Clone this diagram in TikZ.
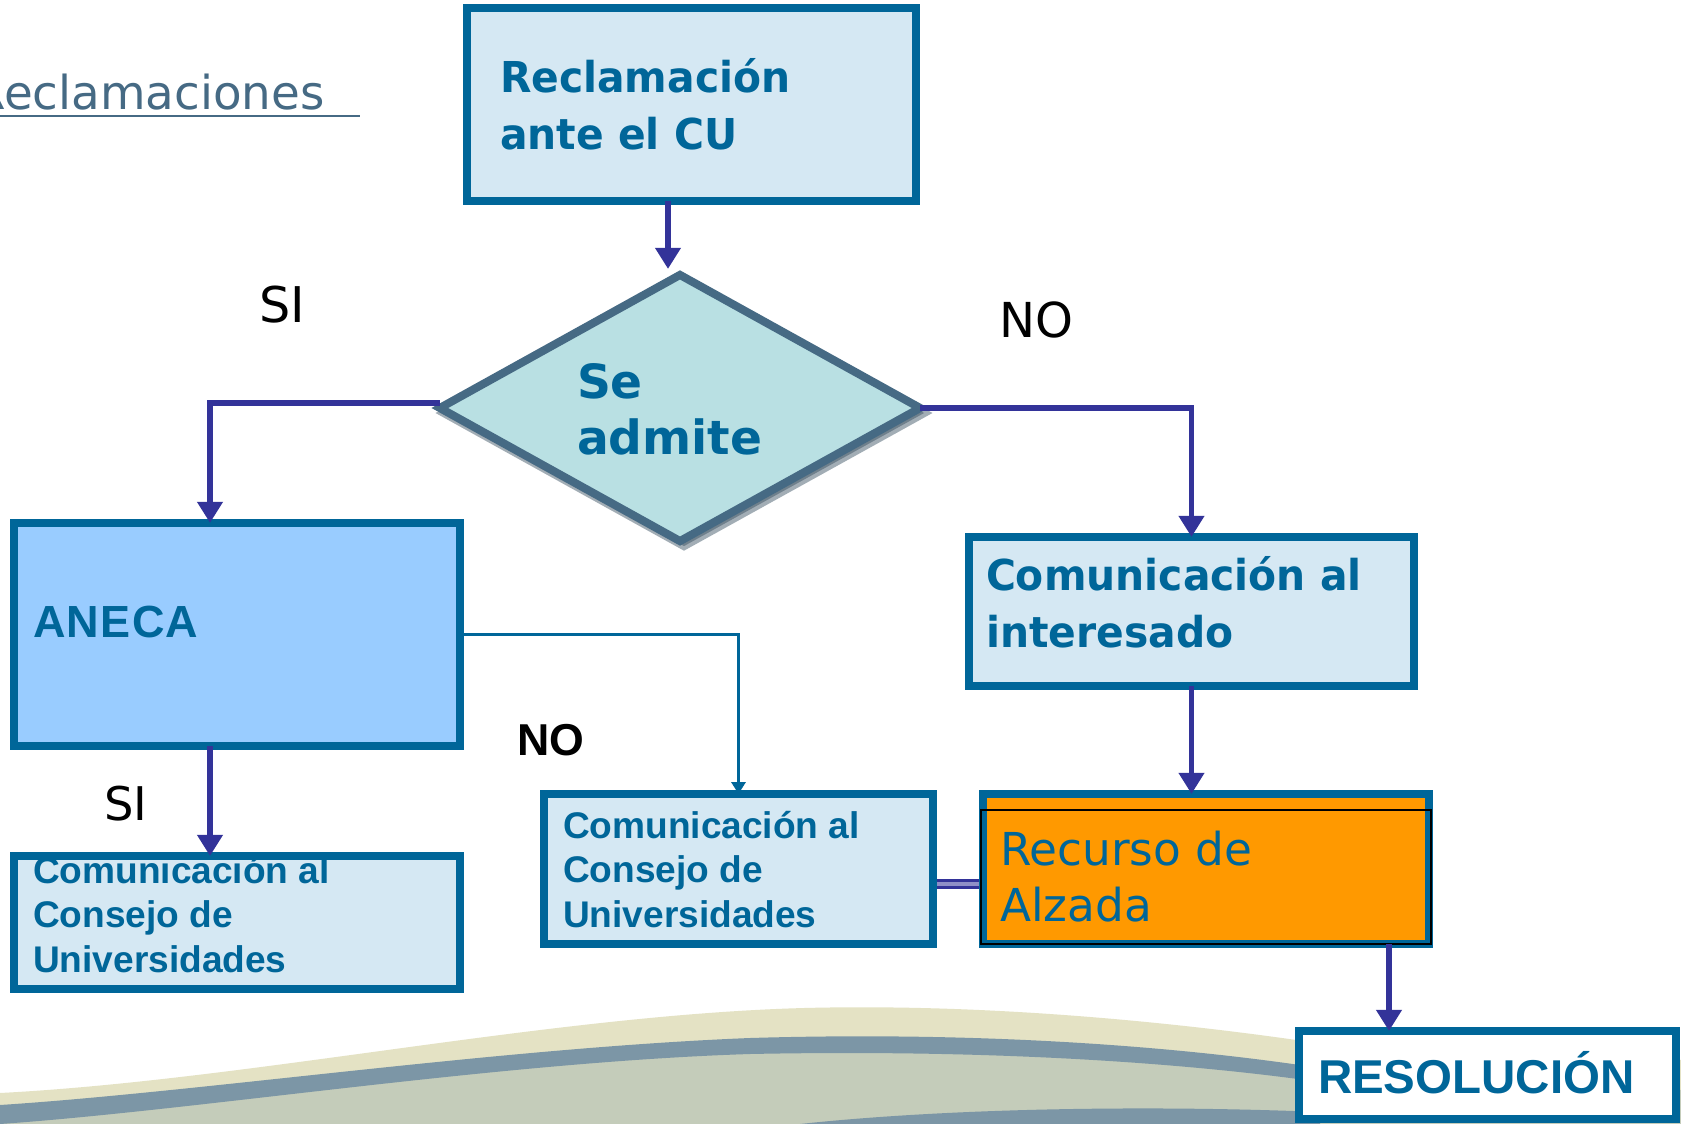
\documentclass[tikz,border=0pt]{standalone}
\usepackage{fontspec}
\setmainfont{Liberation Sans}
\newfontfamily\trks[LetterSpace=3]{Liberation Sans}
\newfontfamily\dv{DejaVu Sans}
\newfontfamily\dvn[FakeStretch=0.96]{DejaVu Sans}
\usetikzlibrary{shapes.geometric,arrows.meta,calc}
\definecolor{bord}{RGB}{0,102,153}
\definecolor{tblue}{RGB}{0,102,153}
\definecolor{lite}{RGB}{213,232,243}
\definecolor{anecafill}{RGB}{153,204,255}
\definecolor{dfill}{RGB}{185,224,227}
\definecolor{dbord}{RGB}{70,106,132}
\definecolor{ind}{RGB}{51,51,153}
\definecolor{orng}{RGB}{255,153,0}
\definecolor{slate}{RGB}{70,106,132}
\definecolor{beige}{RGB}{228,226,196}
\definecolor{greyg}{RGB}{196,204,186}
\definecolor{wave}{RGB}{124,150,166}
\newcommand\ml[1]{\begin{tabular}[t]{@{}l@{}}#1\end{tabular}}
\begin{document}
\begin{tikzpicture}[x=0.01cm,y=-0.01cm,
  box/.style={draw=bord, line width=2.3pt, fill=lite, inner sep=0pt, outer sep=0pt},
  txt/.style={anchor=base west, inner sep=0pt, outer sep=0pt, text=tblue},
  lbl/.style={anchor=base west, inner sep=0pt, outer sep=0pt, text=black},
  arr/.style={draw=ind, line width=1.5pt, -{Triangle[width=7pt,length=6pt]}},
  thinarr/.style={draw=bord, line width=0.85pt, -{Triangle[width=4pt,length=3.4pt]}},
  dbl/.style={draw=ind, line width=0.8pt, double=ind!55, double distance=1pt, shorten <=1.15pt, shorten >=1.15pt},
  dia/.style={diamond, line width=2.3pt, minimum width=4.8cm, minimum height=2.66cm, inner sep=0pt, outer sep=0pt},
]
\useasboundingbox (0,0) rectangle (1681,1124);
\clip (0,0) rectangle (1681,1124);
\fill[white] (0,0) rectangle (1681,1124);

% bottom waves
\fill[beige] (0,1093) .. controls (250,1080) and (550,1015) .. (804,1008)
  .. controls (1000,1003) and (1200,1025) .. (1330,1045) -- (1681,1060) -- (1681,1124) -- (0,1124) -- cycle;
\fill[greyg] (0,1112) .. controls (200,1095) and (500,1050) .. (750,1044)
  .. controls (950,1040) and (1150,1050) .. (1320,1080) -- (1681,1090) -- (1681,1124) -- (0,1124) -- cycle;
\fill[wave] (0,1105) .. controls (200,1092) and (500,1048) .. (750,1038)
  .. controls (950,1032) and (1150,1042) .. (1320,1068)
  -- (1320,1082) .. controls (1150,1058) and (950,1050) .. (750,1054)
  .. controls (500,1062) and (200,1110) .. (0,1124) -- cycle;
\fill[wave] (800,1124) .. controls (950,1108) and (1150,1105) .. (1320,1112) -- (1320,1124) -- cycle;

% title
\node[anchor=base west, inner sep=0pt, text=slate, font={\dv\fontsize{13.3}{16}\selectfont}] (title) at (-27,110) {Reclamaciones};
\draw[slate, line width=0.85pt] (0,116) -- (360,116);

% boxes
\node[box, minimum width=4.49cm, minimum height=1.93cm] (top) at (691.5,104.5) {};
\node[txt, font={\dvn\bfseries\fontsize{12.1}{16.2}\selectfont}] (toptxt) at (500,93) {\ml{Reclamación\\ante el CU}};

\node[dia, draw=dbord!70!black, fill=dbord!70!black, opacity=0.45] (dshadow) at (684,413) {};
\node[dia, draw=dbord, fill=dfill] (d) at (680,408) {};
\node[txt, font={\dv\bfseries\fontsize{13.4}{16.2}\selectfont}] (dtxt) at (577,398) {\ml{Se\\admite}};

\node[box, fill=anecafill, minimum width=4.46cm, minimum height=2.23cm] (aneca) at (237,634.5) {};
\node[txt, font={\trks\bfseries\fontsize{12.8}{16}\selectfont}] (anecatxt) at (33,637) {ANECA};

\node[box, minimum width=4.46cm, minimum height=1.33cm] (cl) at (237,922.5) {};
\node[txt, font={\bfseries\fontsize{10.55}{12.66}\selectfont}] (cltxt) at (33,883) {\ml{Comunicación al\\Consejo de\\Universidades}};

\node[box, minimum width=3.89cm, minimum height=1.5cm] (cm) at (738.5,869) {};
\node[txt, font={\bfseries\fontsize{10.55}{12.66}\selectfont}] (cmtxt) at (563,838) {\ml{Comunicación al\\Consejo de\\Universidades}};

\node[box, minimum width=4.45cm, minimum height=1.49cm] (int) at (1191.5,611.5) {};
\node[txt, font={\dvn\bfseries\fontsize{12.1}{16.4}\selectfont}] (inttxt) at (986,590) {\ml{Comunicación al\\interesado}};

\node[box, fill=orng, minimum width=4.46cm, minimum height=1.5cm] (rec) at (1206,869) {};
\draw[black, line width=0.6pt] (981,810) rectangle (1431,944);
\node[txt, font={\dv\fontsize{12.9}{16.2}\selectfont}] (rectxt) at (1000,865) {\ml{Recurso de\\Alzada}};

\node[box, fill=white, minimum width=3.77cm, minimum height=0.88cm] (res) at (1487.5,1075) {};
\node[txt, font={\bfseries\fontsize{13.5}{16}\selectfont}] (restxt) at (1318,1093) {RESOLUCIÓN};

% labels
\node[lbl, font={\dv\fontsize{14}{16}\selectfont}] (si1) at (259,322) {SI};
\node[lbl, font={\dv\fontsize{13.7}{16}\selectfont}] (no1) at (999,337) {NO};
\node[lbl, font={\dv\fontsize{13.2}{16}\selectfont}] (si2) at (104,820) {SI};
\node[lbl, font={\bfseries\fontsize{12.7}{16}\selectfont}] (no2) at (517,755) {NO};

% connectors
\draw[arr] ($(d.north |- top.south)+(-12,0)$) -- ($(d.north)+(-12,-6)$);
\draw[arr] ($(d.west)+(0,-5)$) -| ($(aneca.north)+(-27,0)$);
\draw[arr] (d.east) -| (int.north);
\draw[arr] (int.south) -- (int.south |- rec.north);
\draw[arr] ($(aneca.south)+(-27,0)$) -- ($(cl.north)+(-27,0)$);
\draw[thinarr] (aneca.east) -| (cm.north);
\draw[dbl] ($(cm.east)+(0,15)$) -- ($(rec.west)+(0,15)$);
\draw[arr] ($(rec.south)+(183,0)$) -- ($(res.north -| rec.south)+(183,0)$);
\end{tikzpicture}
\end{document}
